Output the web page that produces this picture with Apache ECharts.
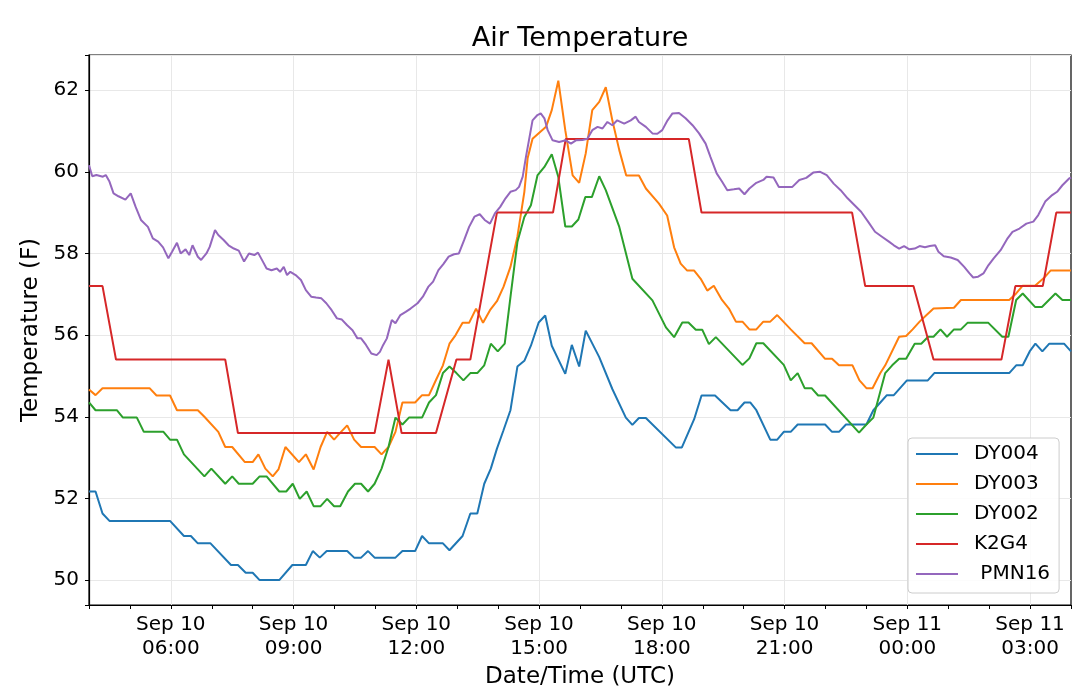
<!DOCTYPE html>
<html><head><meta charset="utf-8">
<script src="https://cdn.jsdelivr.net/npm/echarts@6/dist/echarts.min.js"></script>
<style>html,body{margin:0;padding:0;background:#fff}#chart{width:1080px;height:688px}</style>
</head><body><div id="chart"></div>
<script>
// Times are hours since Sep 10 00:00 UTC
const seriesNames = ['DY004', 'DY003', 'DY002', 'K2G4', ' PMN16'];
const xTickHours = [6, 9, 12, 15, 18, 21, 24, 27];
const yTicks = [50, 52, 54, 56, 58, 60, 62];

const dy004 = [[4.00,52.17],[4.16,52.17],[4.33,51.63],[4.50,51.45],[5.98,51.45],[6.32,51.08],[6.49,51.08],[6.66,50.90],[6.97,50.90],[7.47,50.37],[7.64,50.37],[7.83,50.18],[8.00,50.18],[8.17,50.00],[8.65,50.00],[8.97,50.37],[9.30,50.37],[9.47,50.71],[9.64,50.55],[9.81,50.71],[10.31,50.71],[10.48,50.55],[10.65,50.55],[10.82,50.71],[10.98,50.55],[11.49,50.55],[11.66,50.71],[11.97,50.71],[12.14,51.08],[12.31,50.90],[12.65,50.90],[12.81,50.73],[13.13,51.08],[13.32,51.63],[13.49,51.63],[13.66,52.36],[13.82,52.73],[13.97,53.22],[14.13,53.67],[14.30,54.16],[14.47,55.23],[14.64,55.37],[14.80,55.74],[14.99,56.31],[15.15,56.48],[15.31,55.74],[15.64,55.05],[15.80,55.76],[15.98,55.23],[16.14,56.11],[16.47,55.46],[16.79,54.68],[17.12,53.98],[17.28,53.80],[17.44,53.97],[17.61,53.97],[18.34,53.25],[18.49,53.25],[18.79,53.94],[18.97,54.52],[19.30,54.52],[19.68,54.16],[19.85,54.16],[20.02,54.35],[20.16,54.35],[20.31,54.16],[20.65,53.44],[20.82,53.44],[20.98,53.63],[21.15,53.63],[21.32,53.81],[21.99,53.81],[22.16,53.63],[22.33,53.63],[22.50,53.81],[23.00,53.81],[23.17,54.16],[23.34,54.35],[23.50,54.53],[23.67,54.53],[23.99,54.89],[24.50,54.89],[24.66,55.07],[26.49,55.07],[26.66,55.26],[26.82,55.26],[26.99,55.60],[27.13,55.79],[27.30,55.60],[27.47,55.79],[27.83,55.79],[28.00,55.60]];

const dy003 = [[4.00,54.67],[4.16,54.53],[4.33,54.70],[5.48,54.70],[5.65,54.52],[5.98,54.52],[6.15,54.16],[6.66,54.16],[6.82,54.00],[7.16,53.63],[7.33,53.26],[7.50,53.26],[7.81,52.89],[8.00,52.89],[8.14,53.08],[8.31,52.73],[8.49,52.54],[8.63,52.71],[8.80,53.26],[9.13,52.89],[9.30,53.08],[9.49,52.71],[9.66,53.26],[9.82,53.63],[9.99,53.44],[10.16,53.63],[10.31,53.79],[10.48,53.44],[10.65,53.26],[10.98,53.26],[11.15,53.08],[11.32,53.26],[11.49,53.63],[11.66,54.35],[11.97,54.35],[12.14,54.53],[12.31,54.53],[12.48,54.90],[12.65,55.26],[12.81,55.79],[12.96,56.00],[13.13,56.30],[13.29,56.30],[13.46,56.65],[13.63,56.30],[13.80,56.61],[13.97,56.83],[14.13,57.18],[14.30,57.67],[14.47,58.41],[14.64,59.51],[14.72,60.33],[14.84,60.81],[15.17,61.10],[15.31,61.51],[15.47,62.23],[15.64,61.02],[15.82,59.91],[15.98,59.73],[16.14,60.45],[16.30,61.51],[16.47,61.71],[16.63,62.07],[16.79,61.26],[16.96,60.53],[17.13,59.91],[17.44,59.91],[17.61,59.59],[17.93,59.22],[18.13,58.93],[18.30,58.15],[18.46,57.75],[18.62,57.58],[18.79,57.58],[18.95,57.38],[19.11,57.09],[19.27,57.21],[19.47,56.86],[19.64,56.65],[19.81,56.33],[19.97,56.33],[20.14,56.14],[20.31,56.14],[20.48,56.33],[20.65,56.33],[20.82,56.49],[21.15,56.14],[21.49,55.80],[21.66,55.80],[21.99,55.42],[22.16,55.42],[22.33,55.26],[22.66,55.26],[22.83,54.89],[23.00,54.70],[23.15,54.70],[23.34,55.07],[23.46,55.26],[23.80,55.96],[23.97,55.98],[24.13,56.14],[24.30,56.33],[24.47,56.49],[24.64,56.65],[25.14,56.67],[25.31,56.86],[26.49,56.86],[26.66,57.02],[26.82,57.21],[27.12,57.21],[27.33,57.39],[27.50,57.58],[28.00,57.58]];

const dy002 = [[4.00,54.35],[4.16,54.16],[4.68,54.16],[4.83,53.98],[5.17,53.98],[5.34,53.63],[5.82,53.63],[5.98,53.44],[6.15,53.44],[6.32,53.08],[6.82,52.54],[6.99,52.73],[7.33,52.36],[7.50,52.54],[7.66,52.36],[8.00,52.36],[8.17,52.54],[8.34,52.54],[8.65,52.17],[8.82,52.17],[8.98,52.36],[9.15,51.99],[9.32,52.17],[9.49,51.81],[9.66,51.81],[9.82,51.99],[9.99,51.81],[10.14,51.81],[10.33,52.17],[10.50,52.36],[10.65,52.36],[10.82,52.17],[10.98,52.36],[11.15,52.73],[11.32,53.26],[11.49,53.98],[11.66,53.81],[11.82,53.98],[12.14,53.98],[12.31,54.35],[12.48,54.53],[12.65,55.07],[12.81,55.23],[12.98,55.07],[13.15,54.89],[13.32,55.07],[13.49,55.07],[13.66,55.26],[13.82,55.79],[13.99,55.60],[14.16,55.79],[14.31,57.01],[14.47,58.28],[14.64,58.89],[14.80,59.18],[14.96,59.91],[15.13,60.12],[15.31,60.43],[15.47,59.87],[15.64,58.66],[15.80,58.66],[15.96,58.83],[16.13,59.38],[16.29,59.38],[16.47,59.89],[16.63,59.55],[16.96,58.65],[17.28,57.38],[17.77,56.85],[18.10,56.19],[18.30,55.95],[18.50,56.31],[18.65,56.31],[18.83,56.13],[18.99,56.13],[19.15,55.78],[19.32,55.95],[19.97,55.27],[20.14,55.43],[20.31,55.80],[20.48,55.80],[20.98,55.27],[21.15,54.89],[21.32,55.07],[21.49,54.70],[21.66,54.70],[21.82,54.52],[21.99,54.52],[22.82,53.61],[23.00,53.81],[23.17,53.98],[23.46,55.07],[23.63,55.26],[23.80,55.42],[23.97,55.42],[24.18,55.79],[24.34,55.79],[24.51,55.96],[24.64,55.96],[24.81,56.14],[24.97,55.96],[25.14,56.14],[25.31,56.14],[25.47,56.30],[25.98,56.30],[26.32,55.96],[26.47,55.96],[26.66,56.86],[26.82,57.02],[27.12,56.69],[27.29,56.69],[27.62,57.02],[27.79,56.86],[28.00,56.86]];

const k2g4 = [[4.00,57.2],[4.33,57.2],[4.66,55.4],[7.33,55.4],[7.64,53.6],[10.98,53.6],[11.32,55.4],[11.64,53.6],[12.48,53.6],[12.98,55.4],[13.32,55.4],[13.97,59.0],[15.34,59.0],[15.65,60.8],[18.66,60.8],[18.97,59.0],[22.65,59.0],[22.97,57.2],[24.15,57.2],[24.64,55.4],[26.30,55.4],[26.64,57.2],[27.31,57.2],[27.64,59.0],[28.00,59.0]];

const pmn16 = [[4.00,60.16],[4.08,59.89],[4.18,59.92],[4.34,59.88],[4.41,59.92],[4.50,59.76],[4.60,59.47],[4.72,59.40],[4.89,59.32],[5.02,59.47],[5.14,59.14],[5.27,58.82],[5.44,58.65],[5.56,58.37],[5.69,58.29],[5.81,58.15],[5.94,57.88],[6.03,58.04],[6.15,58.26],[6.24,58.00],[6.36,58.10],[6.45,57.96],[6.53,58.20],[6.66,57.92],[6.74,57.84],[6.87,58.00],[6.95,58.16],[7.08,58.57],[7.16,58.45],[7.29,58.33],[7.41,58.20],[7.54,58.12],[7.66,58.07],[7.79,57.80],[7.91,58.00],[8.04,57.96],[8.13,58.02],[8.25,57.80],[8.34,57.63],[8.46,57.59],[8.59,57.63],[8.67,57.55],[8.76,57.67],[8.84,57.47],[8.92,57.55],[9.05,57.47],[9.18,57.35],[9.30,57.10],[9.43,56.94],[9.55,56.92],[9.68,56.90],[9.80,56.78],[9.93,56.61],[10.06,56.41],[10.18,56.38],[10.31,56.24],[10.44,56.12],[10.56,55.92],[10.65,55.92],[10.77,55.76],[10.90,55.55],[11.03,55.51],[11.11,55.59],[11.19,55.76],[11.28,55.92],[11.40,56.37],[11.49,56.29],[11.61,56.49],[11.74,56.57],[11.86,56.65],[12.03,56.78],[12.16,56.94],[12.29,57.18],[12.41,57.31],[12.54,57.59],[12.66,57.74],[12.79,57.92],[12.92,57.98],[13.04,58.00],[13.17,58.33],[13.29,58.65],[13.42,58.90],[13.55,58.96],[13.67,58.82],[13.80,58.73],[13.92,58.98],[14.05,59.14],[14.18,59.35],[14.30,59.51],[14.43,59.55],[14.51,59.63],[14.60,59.88],[14.68,60.37],[14.84,61.26],[14.96,61.39],[15.04,61.43],[15.13,61.31],[15.21,61.02],[15.33,60.77],[15.49,60.73],[15.65,60.77],[15.78,60.69],[15.90,60.77],[16.06,60.78],[16.18,60.81],[16.30,61.02],[16.43,61.10],[16.55,61.06],[16.67,61.22],[16.79,61.14],[16.91,61.26],[17.08,61.18],[17.24,61.26],[17.36,61.35],[17.44,61.22],[17.61,61.10],[17.77,60.94],[17.89,60.93],[18.01,61.02],[18.14,61.26],[18.26,61.43],[18.42,61.44],[18.58,61.31],[18.75,61.14],[18.91,60.94],[19.07,60.69],[19.19,60.36],[19.34,59.96],[19.47,59.76],[19.60,59.55],[19.76,59.57],[19.89,59.59],[20.02,59.45],[20.14,59.59],[20.31,59.73],[20.48,59.80],[20.56,59.88],[20.73,59.86],[20.86,59.63],[21.03,59.63],[21.19,59.63],[21.36,59.80],[21.53,59.85],[21.70,59.98],[21.87,60.00],[22.03,59.92],[22.20,59.71],[22.37,59.55],[22.54,59.35],[22.71,59.18],[22.87,59.02],[23.04,58.78],[23.21,58.53],[23.38,58.41],[23.55,58.29],[23.67,58.20],[23.80,58.12],[23.92,58.18],[24.05,58.10],[24.18,58.12],[24.30,58.18],[24.43,58.15],[24.55,58.18],[24.68,58.20],[24.76,58.04],[24.89,57.93],[25.06,57.90],[25.23,57.84],[25.39,57.67],[25.52,57.51],[25.61,57.41],[25.73,57.43],[25.86,57.51],[25.98,57.71],[26.11,57.88],[26.28,58.08],[26.45,58.37],[26.57,58.53],[26.74,58.61],[26.91,58.73],[27.08,58.78],[27.20,58.94],[27.37,59.27],[27.54,59.43],[27.66,59.51],[27.79,59.67],[27.96,59.84],[28.00,59.86]];

const seriesData = [dy004, dy003, dy002, k2g4, pmn16];
const colors = ['#1f77b4', '#ff7f0e', '#2ca02c', '#d62728', '#9467bd'];
const FONT = 'DejaVu Sans';

function fmtX(v) {
  if (xTickHours.indexOf(v) < 0) return '';
  const day = v >= 24 ? 11 : 10;
  const h = v % 24;
  return 'Sep ' + day + '\n' + String(h).padStart(2, '0') + ':00';
}
function fmtY(v) {
  for (const t of yTicks) if (Math.abs(v - t) < 1e-6) return String(t);
  return '';
}

const chart = echarts.init(document.getElementById('chart'));
chart.setOption({
  animation: false,
  color: colors,
  title: {
    text: 'Air Temperature', left: 575, top: 20, textAlign: 'center',
    textStyle: { fontFamily: FONT, fontSize: 27, fontWeight: 'normal', color: '#000' }
  },
  grid: { left: 89, right: 9, top: 55, bottom: 83, containLabel: false, outerBoundsMode: 'none', show: true, borderColor: '#000', borderWidth: 1.2, backgroundColor: 'rgba(0,0,0,0)' },
  legend: {
    orient: 'vertical', left: 908, top: 438,
    padding: [6, 9, 9, 8], itemWidth: 42, itemHeight: 2, itemGap: 10, icon: 'rect',
    backgroundColor: 'rgba(255,255,255,0.85)', borderColor: '#cccccc', borderWidth: 1, borderRadius: 4,
    textStyle: { fontFamily: FONT, fontSize: 20, color: '#000', lineHeight: 20, padding: [0, 0, 0, 11] },
    data: seriesNames
  },
  xAxis: {
    type: 'value', min: 4, max: 28, interval: 1,
    axisLine: { show: true, lineStyle: { color: '#000', width: 1.2 } },
    axisTick: { show: true, length: 4, lineStyle: { color: '#000' } },
    axisLabel: { formatter: fmtX, fontFamily: FONT, fontSize: 20, lineHeight: 24, color: '#000', margin: 8, showMinLabel: true, showMaxLabel: true },
    splitLine: { show: true, lineStyle: { color: ['rgba(0,0,0,0)', 'rgba(0,0,0,0)', '#e8e8e8'], width: 1 } },
    name: 'Date/Time (UTC)', nameLocation: 'middle', nameGap: 56,
    nameTextStyle: { fontFamily: FONT, fontSize: 23, color: '#000' }
  },
  yAxis: {
    type: 'value', min: 49.39, max: 62.86, minInterval: 2, maxInterval: 2,
    axisLine: { show: true, lineStyle: { color: '#000', width: 1.2 } },
    axisTick: { show: true, length: 4, lineStyle: { color: '#000' } },
    axisLabel: { formatter: fmtY, fontFamily: FONT, fontSize: 20, color: '#000', margin: 10 },
    splitLine: { show: true, lineStyle: { color: '#e8e8e8', width: 1 } },
    name: 'Temperature (F)', nameLocation: 'middle', nameGap: 37, nameRotate: 90,
    nameTextStyle: { fontFamily: FONT, fontSize: 23, color: '#000' }
  },
  series: seriesNames.map((name, i) => ({
    name: name, type: 'line', data: seriesData[i], showSymbol: false, symbol: 'none',
    lineStyle: { width: 2, color: colors[i] }, itemStyle: { color: colors[i] },
    emphasis: { disabled: true }, clip: true
  }))
});
</script>
</body></html>
